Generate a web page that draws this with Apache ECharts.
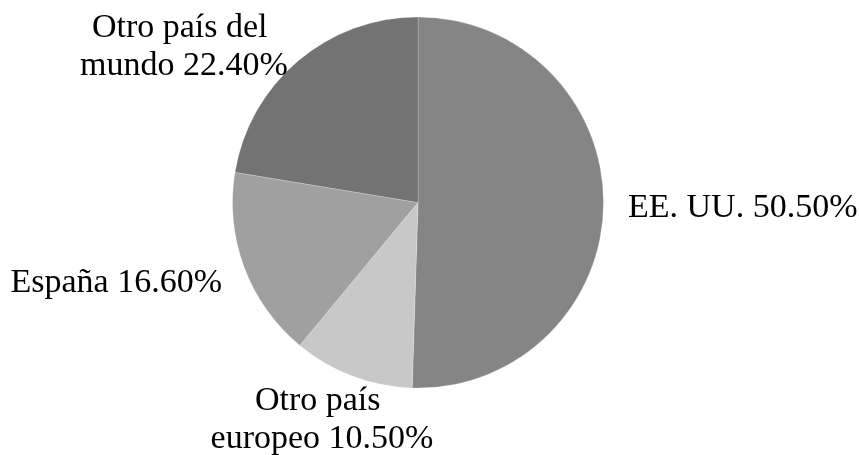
<html>
<head>
<meta charset="utf-8">
<title>Pie</title>
<script src="https://cdn.jsdelivr.net/npm/echarts@6/dist/echarts.min.js"></script>
<style>
  html, body { margin: 0; padding: 0; background: #fff; }
  #chart { width: 859px; height: 455px; }
</style>
</head>
<body>
<div id="chart"></div>
<script type="text/javascript">
var names = ['EE. UU.', 'Otro país europeo', 'España', 'Otro país del mundo'];
var values = [50.5, 10.5, 16.6, 22.4];
var colors = ['#858585', '#c8c8c8', '#a0a0a0', '#737373'];

// where each label sits (anchor, alignment), same order as names
var labelSpots = [
    { x: 628, y: 208, align: 'left' },
    { x: 322, y: 420, align: 'center' },
    { x: 222, y: 283, align: 'right' },
    { x: 184, y: 47, align: 'center' }
];

var seriesData = [];
for (var i = 0; i < names.length; i++) {
    seriesData.push({ name: names[i], value: values[i], itemStyle: { color: colors[i] } });
}

var myChart = echarts.init(document.getElementById('chart'), null, { renderer: 'canvas' });
var option = {
    backgroundColor: '#ffffff',
    animation: false,
    series: [
        {
            type: 'pie',
            center: [418, 202.5],
            radius: [0, 185.5],
            startAngle: 90,
            clockwise: true,
            data: seriesData,
            itemStyle: {
                borderColor: 'rgba(255,255,255,0.35)',
                borderWidth: 0.6
            },
            label: {
                show: true,
                position: 'outside',
                fontFamily: 'Liberation Serif',
                fontSize: 34,
                lineHeight: 38,
                color: '#000',
                width: 236,
                overflow: 'break',
                formatter: function (p) {
                    return p.name + ' ' + p.value.toFixed(2) + '%';
                }
            },
            labelLine: { show: false },
            labelLayout: function (params) {
                var s = labelSpots[params.dataIndex];
                return {
                    x: s.x,
                    y: s.y,
                    align: s.align,
                    verticalAlign: 'middle'
                };
            }
        }
    ]
};
myChart.setOption(option, true);
</script>
</body>
</html>
